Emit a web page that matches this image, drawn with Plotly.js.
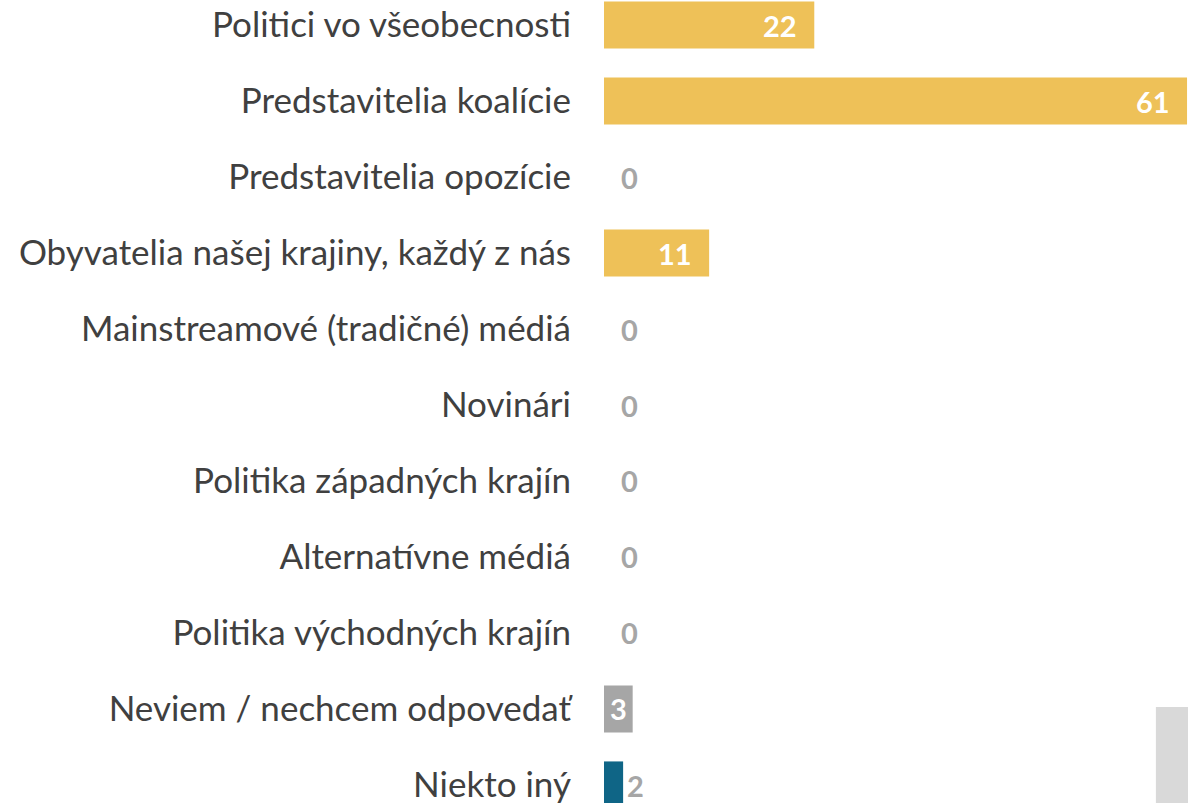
<!DOCTYPE html>
<html>
<head>
<meta charset="utf-8">
<script src="https://cdn.plot.ly/plotly-3.0.1.min.js"></script>
<style>html,body{margin:0;padding:0;background:#fff;}#chart{width:1188px;height:803px;}</style>
</head>
<body>
<div id="chart"></div>
<script>
var categories = [
  "Politici vo všeobecnosti",
  "Predstavitelia koalície",
  "Predstavitelia opozície",
  "Obyvatelia našej krajiny, každý z nás",
  "Mainstreamové (tradičné) médiá",
  "Novinári",
  "Politika západných krajín",
  "Alternatívne médiá",
  "Politika východných krajín",
  "Neviem / nechcem odpovedať",
  "Niekto iný"
];
var values = [22, 61, 0, 11, 0, 0, 0, 0, 0, 3, 2];
var barColors = ["#EEC158","#EEC158","#EEC158","#EEC158","#EEC158","#EEC158","#EEC158","#EEC158","#EEC158","#A6A6A6","#0F6586"];

var FONT = "Lato, 'Open Sans', sans-serif";

var annotations = [];
for (var i = 0; i < categories.length; i++) {
  var v = values[i];
  var a = {x: v, y: categories[i], xref: 'x', yref: 'y', text: String(v), showarrow: false,
           font: {family: FONT, size: 29, color: '#FFFFFF', weight: 'bold'}, yanchor: 'middle'};
  if (v >= 10) {
    a.xanchor = 'right'; a.xshift = -15;
  } else if (v >= 3) {
    a.x = v / 2; a.xanchor = 'center';
  } else {
    a.xanchor = 'center'; a.xshift = (v === 0 ? 25 : 12);
    a.font.color = '#A6A6A6'; a.yshift = (v === 0 ? 0 : -1);
  }
  annotations.push(a);
}

var trace = {
  type: 'bar', orientation: 'h',
  x: values, y: categories,
  marker: {color: barColors, line: {width: 0}},
  width: 0.62,
  hoverinfo: 'none'
};

var layout = {
  width: 1188, height: 803,
  margin: {l: 604, r: 0, t: 0, b: 0, pad: 0},
  paper_bgcolor: '#FFFFFF', plot_bgcolor: '#FFFFFF',
  showlegend: false,
  xaxis: {range: [0, 61.1], visible: false, fixedrange: true},
  yaxis: {type: 'category', categoryarray: categories, range: [10.237, -0.329],
          showgrid: false, zeroline: false, showline: false, ticks: '',
          ticklabelstandoff: 32,
          tickfont: {family: FONT, size: 35, color: '#404040'}},
  shapes: [{type: 'rect', xref: 'paper', yref: 'paper', x0: 0.945, x1: 1, y0: 0, y1: 0.1196,
            fillcolor: '#D9D9D9', line: {width: 0}, layer: 'below'}],
  annotations: annotations
};

Plotly.newPlot('chart', [trace], layout, {displayModeBar: false, staticPlot: true});
</script>
</body>
</html>
